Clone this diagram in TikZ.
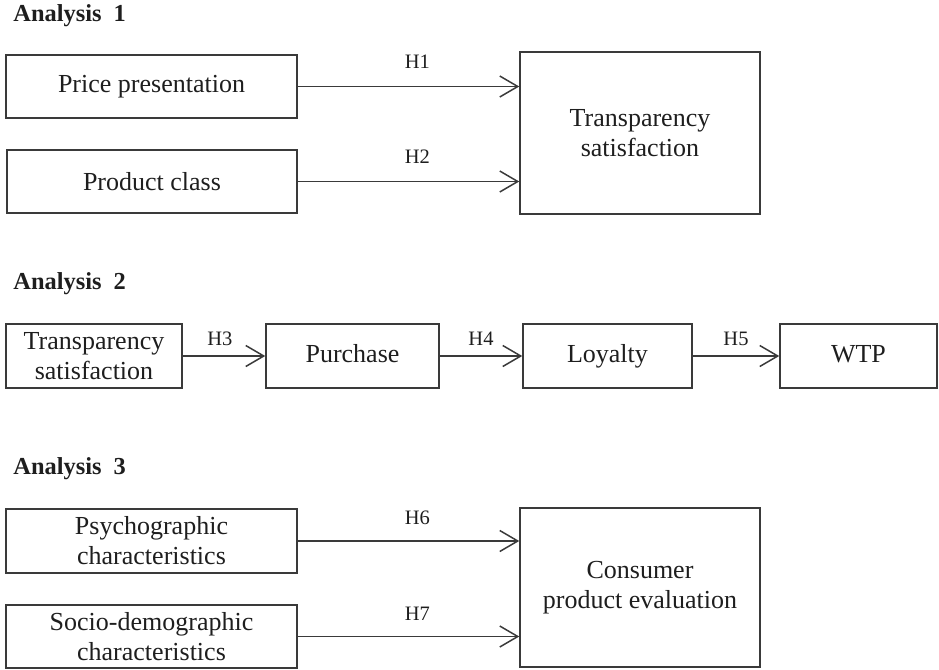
\documentclass[tikz,border=0pt]{standalone}
\usepackage{fontspec}
\setmainfont{Liberation Serif}
\usetikzlibrary{arrows.meta}
\definecolor{linegray}{HTML}{3A3A3A}
\definecolor{textgray}{HTML}{1E1E1E}
\begin{document}
\begin{tikzpicture}[x=0.5pt,y=-0.5pt]
	\tikzstyle{every node}+=[inner sep=0pt, text=textgray]
	\tikzstyle{block}=[draw=linegray, line width=0.75pt, align=center, font=\fontsize{13}{15}\selectfont]
	\tikzstyle{oneline}=[text height=9pt, text depth=3pt]
	\tikzstyle{title}=[anchor=west, font=\fontsize{12.2}{14}\selectfont\bfseries]
	\tikzstyle{hyp}=[font=\fontsize{10.25}{12}\selectfont]
	\tikzstyle{arr}=[draw=linegray, line width=0.75pt, -{Straight Barb[length=9pt, width=10.5pt]}]
	\useasboundingbox (0,0) rectangle (939,670);
	\node[title] (a1) at (13,16) {Analysis~~1};
	\node[block, minimum width=145.5pt, minimum height=31.5pt] (price) at (151.5,86.5) {Price presentation};
	\node[block, minimum width=145pt, minimum height=31.5pt] (class) at (152,181.5) {Product class};
	\node[block, minimum width=120pt, minimum height=81pt] (tsat) at (640,133) {Transparency\\satisfaction};
	\draw[arr] (price.east) -- (price.east -| tsat.west) node[hyp, pos=0.54, above=8.6pt] (h1) {H1};
	\draw[arr] (class.east) -- (class.east -| tsat.west) node[hyp, pos=0.54, above=8.6pt] (h2) {H2};
	\node[title] (a2) at (13,284) {Analysis~~2};
	\node[block, minimum width=88pt, minimum height=32pt] (tsat2) at (94,356) {Transparency\\satisfaction};
	\node[block, oneline, minimum width=86.5pt, minimum height=32pt] (purch) at (352.5,356) {Purchase};
	\node[block, oneline, minimum width=84.5pt, minimum height=32pt] (loyal) at (607.5,356) {Loyalty};
	\node[block, oneline, minimum width=78.5pt, minimum height=32pt] (wtp) at (858.5,356) {WTP};
	\draw[arr] (tsat2) -- (purch) node[hyp, pos=0.45, above=5pt] (h3) {H3};
	\draw[arr] (purch) -- (loyal) node[hyp, midway, above=5pt] (h4) {H4};
	\draw[arr] (loyal) -- (wtp) node[hyp, midway, above=5pt] (h5) {H5};
	\node[title] (a3) at (13,469) {Analysis~~3};
	\node[block, minimum width=145.5pt, minimum height=32pt] (psych) at (151.5,541) {Psychographic\\characteristics};
	\node[block, minimum width=145.5pt, minimum height=31.5pt] (socio) at (151.5,636.5) {Socio-demographic\\characteristics};
	\node[block, minimum width=120pt, minimum height=79.5pt] (cons) at (640,587.5) {Consumer\\product evaluation};
	\draw[arr] (psych.east) -- (psych.east -| cons.west) node[hyp, pos=0.54, above=7.6pt] (h6) {H6};
	\draw[arr] (socio.east) -- (socio.east -| cons.west) node[hyp, pos=0.54, above=7.6pt] (h7) {H7};
\end{tikzpicture}
\end{document}
